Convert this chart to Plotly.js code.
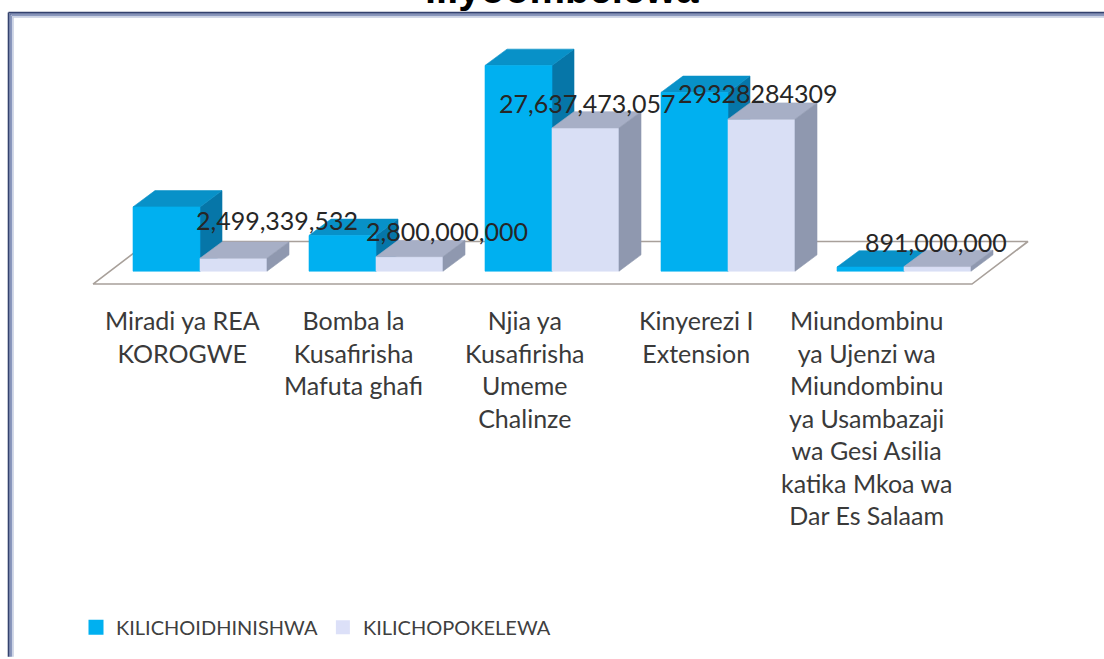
<!DOCTYPE html>
<html><head><meta charset="utf-8">
<script src="https://cdn.plot.ly/plotly-3.0.1.min.js"></script>
<style>html,body{margin:0;padding:0;background:#fff;overflow:hidden} #chart{width:1104px;height:659px;}</style>
</head><body><div id="chart"></div>
<script>
// ---------- DATA ----------
const categories = [
  "Miradi ya REA<br>KOROGWE",
  "Bomba la<br>Kusafirisha<br>Mafuta ghafi",
  "Njia ya<br>Kusafirisha<br>Umeme<br>Chalinze",
  "Kinyerezi I<br>Extension",
  "Miundombinu<br>ya Ujenzi wa<br>Miundombinu<br>ya Usambazaji<br>wa Gesi Asilia<br>katika Mkoa wa<br>Dar Es Salaam"
];
const seriesNames = ["KILICHOIDHINISHWA", "KILICHOPOKELEWA"];
const kilichoidhinishwa = [12.4e9, 6.9e9, 39.7e9, 34.5e9, 0.8e9];
const kilichopokelewa = [2499339532, 2800000000, 27637473057, 29328284309, 891000000];
const pokelewaLabels = ["2,499,339,532", "2,800,000,000", "27,637,473,057", "29328284309", "891,000,000"];
const titleText = "iliyoombelewa";

// ---------- LAYOUT GEOMETRY ----------
const W = 1104, H = 659;
const M = {l: 20, r: 14, t: 20, b: 99};
const pxPerCat = 176, xOriginPx = 200;      // category boundary position
const pxPerUnit = 5.24e-9, yZeroPx = 274;    // value scale
const plotW = W - M.l - M.r, plotH = H - M.t - M.b;
const xRange = [(M.l - xOriginPx) / pxPerCat, (W - M.r - xOriginPx) / pxPerCat];
const yRange = [(yZeroPx - (H - M.b)) / pxPerUnit, (yZeroPx - M.t) / pxPerUnit];
const barW = 67 / pxPerCat;
const dX = 22 / pxPerCat, dY = 16.5 / pxPerUnit;
const pxX = p => (p - M.l) / plotW;           // pixel -> paper
const pxY = q => (H - M.b - q) / plotH;

const colors = {
  a: {front: "#00B0F0", top: "#0891C8", side: "#0676A8"},
  b: {front: "#D9DFF5", top: "#A7AFC6", side: "#8F98AF"}
};

function poly(pts, fill) {
  const xs = pts.map(p => p[0]); xs.push(pts[0][0]);
  const ys = pts.map(p => p[1]); ys.push(pts[0][1]);
  return {type: "scatter", mode: "lines", x: xs, y: ys, fill: "toself",
    fillcolor: fill, line: {color: fill, width: 0.6}, hoverinfo: "skip", showlegend: false};
}
function faces(x0, v, c) {
  const x1 = x0 + barW;
  return {
    front: poly([[x0, 0], [x1, 0], [x1, v], [x0, v]], c.front),
    top: poly([[x0, v], [x1, v], [x1 + dX, v + dY], [x0 + dX, v + dY]], c.top),
    side: poly([[x1, 0], [x1 + dX, dY], [x1 + dX, v + dY], [x1, v]], c.side)
  };
}

const traces = [];
// floor
const fl = {x0: (93 - xOriginPx) / pxPerCat, x1: (972 - xOriginPx) / pxPerCat,
  yf: (yZeroPx - 287) / pxPerUnit, yb: (yZeroPx - 244) / pxPerUnit, dx: 56 / pxPerCat};
traces.push({type: "scatter", mode: "lines",
  x: [fl.x0, fl.x1, fl.x1 + fl.dx, fl.x0 + fl.dx, fl.x0],
  y: [fl.yf, fl.yf, fl.yb, fl.yb, fl.yf],
  fill: "toself", fillcolor: "#FFFFFF", line: {color: "#A8A09A", width: 1.6},
  hoverinfo: "skip", showlegend: false});

categories.forEach((c, i) => {
  const A = faces(i - barW, kilichoidhinishwa[i], colors.a);
  const B = faces(i, kilichopokelewa[i], colors.b);
  traces.push(A.side, A.top, A.front, B.front, B.top, B.side);
});
// legend entries
traces.push({type: "scatter", mode: "markers", x: [null], y: [null], name: seriesNames[0],
  marker: {symbol: "square", size: 15, color: colors.a.front}, hoverinfo: "skip"});
traces.push({type: "scatter", mode: "markers", x: [null], y: [null], name: seriesNames[1],
  marker: {symbol: "square", size: 14, color: "#DCE0F8"}, hoverinfo: "skip"});

const labelFont = {family: "Lato, 'Open Sans', sans-serif", size: 25, color: "#262626"};
const catFont = {family: "Lato, 'Open Sans', sans-serif", size: 25, color: "#3A3A3A"};
const labelNudgeX = [43, 37, 2, -4, -2];
const labelNudgeY = [38, 26, 25, 26, 25];

const annotations = [];
categories.forEach((c, i) => {
  annotations.push({xref: "x", yref: "paper", x: i - 0.1 - 0.028 * i, y: pxY(306),
    text: c, showarrow: false, xanchor: "center", yanchor: "top", align: "center", font: catFont});
  annotations.push({xref: "x", yref: "y", x: i + barW / 2, y: kilichopokelewa[i],
    text: pokelewaLabels[i], showarrow: false, xanchor: "center", yanchor: "middle",
    xshift: labelNudgeX[i], yshift: labelNudgeY[i], font: labelFont});
});
annotations.push({xref: "paper", yref: "paper", x: pxX(562), y: pxY(-11), text: "<b>" + titleText + "</b>",
  showarrow: false, xanchor: "center", yanchor: "middle",
  font: {family: "Liberation Sans, Arial, sans-serif", size: 40, color: "#000000"}});

const shapes = [];
const borderLines = [
  {p: 12.5, c: "#34426E", w: 1.6}, {p: 14, c: "#5E6E9C", w: 1.5},
  {p: 15.5, c: "#8A98BE", w: 1.5}, {p: 17, c: "#C4CCE0", w: 1.5}
];
borderLines.forEach(b => {
  shapes.push({type: "line", xref: "paper", yref: "paper", x0: pxX(b.p - 4), x1: pxX(W + 5),
    y0: pxY(b.p), y1: pxY(b.p), line: {color: b.c, width: b.w}, layer: "above"});
  shapes.push({type: "line", xref: "paper", yref: "paper", x0: pxX(b.p - 4), x1: pxX(b.p - 4),
    y0: pxY(b.p), y1: pxY(H + 5), line: {color: b.c, width: b.w}, layer: "above"});
});

const layout = {
  width: W, height: H, margin: M,
  paper_bgcolor: "#FFFFFF", plot_bgcolor: "#FFFFFF",
  xaxis: {range: xRange, visible: false, fixedrange: true},
  yaxis: {range: yRange, visible: false, fixedrange: true},
  showlegend: true,
  legend: {orientation: "h", x: pxX(76), xanchor: "left", y: pxY(634), yanchor: "middle",
    font: {family: "Lato, 'Open Sans', sans-serif", size: 20, color: "#404040"},
    bgcolor: "rgba(0,0,0,0)", itemclick: false, itemdoubleclick: false},
  annotations: annotations, shapes: shapes, hovermode: false
};
Plotly.newPlot("chart", traces, layout, {displayModeBar: false, staticPlot: true});
</script></body></html>
